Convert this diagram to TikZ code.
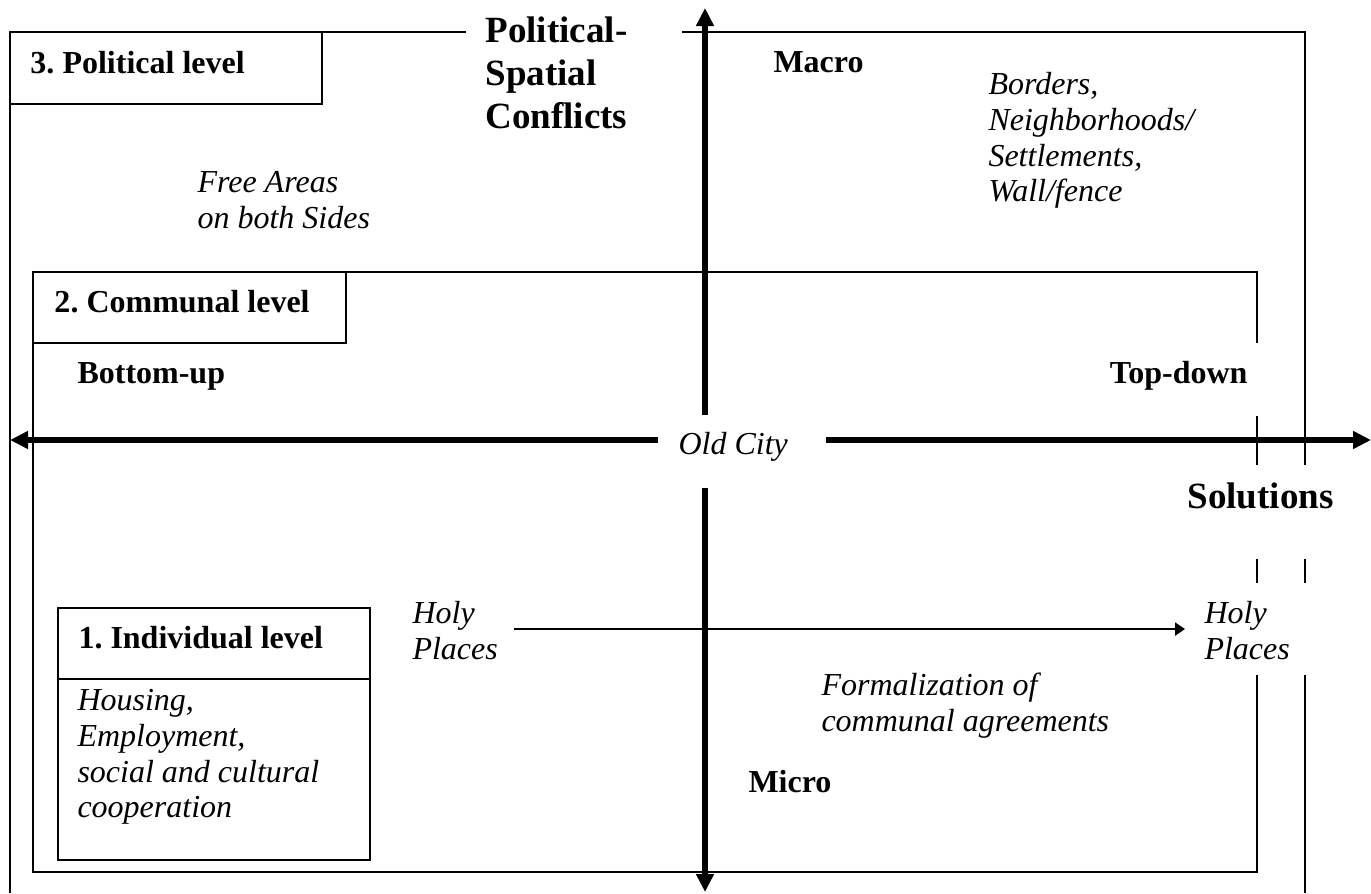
\documentclass[tikz,border=0pt]{standalone}
\usepackage{fontspec}
\setmainfont{Liberation Serif}
\usepackage{tikz}
\usetikzlibrary{arrows.meta}

\begin{document}
\frenchspacing
\begin{tikzpicture}[x=0.4pt, y=-0.4pt,
		every node/.style={inner sep=0pt},
		lvl/.style={font=\bfseries\fontsize{12.8}{14.3}\selectfont, anchor=base west},
		note/.style={font=\itshape\fontsize{12.8}{14.3}\selectfont, align=left, anchor=north west},
		title/.style={font=\bfseries\fontsize{14.8}{17.2}\selectfont, align=left, anchor=north west},
		frame/.style={line width=0.8pt},
		axis/.style={line width=2.2pt, -{Triangle[length=7.2pt, width=6.8pt]}},
		flow/.style={line width=0.8pt, -{Triangle[length=4pt, width=5.2pt]}}]
		\useasboundingbox (0,0) rectangle (1371,893);

		% outer frame, political level
		\draw[frame](466,32)--(10,32)--(10,893);
		\draw[frame](682,32)--(1305,32)--(1305,465);
		\draw[frame](1305,559)--(1305,583);
		\draw[frame](1305,675)--(1305,893);
		\draw[frame](10,104)--(322,104)--(322,32);

		% communal frame
		\draw[frame](1257,343)--(1257,272)--(33,272)--(33,872)--(1257,872)--(1257,675);
		\draw[frame](1257,416)--(1257,465);
		\draw[frame](1257,559)--(1257,583);
		\draw[frame](33,343)--(346,343)--(346,272);

		% individual box
		\draw[frame](58,608) rectangle (370,860);
		\draw[frame](58,679)--(370,679);

		% labels
		\node[lvl] (polLevel) at (30,73) {3. Political level};
		\node[lvl] (comLevel) at (54,312) {2. Communal level};
		\node[lvl] (indLevel) at (78,648) {1. Individual level};
		\node[title] (conflicts) at (485,16) {Political-\\Spatial\\Conflicts};
		\node[title, anchor=base west] (solutions) at (1187,508) {Solutions};
		\node[lvl] (macro) at (773,72) {Macro};
		\node[lvl] (micro) at (748,792) {Micro};
		\node[lvl] (bottomUp) at (77,383) {Bottom-up};
		\node[lvl, anchor=base east] (topDown) at (1248,383) {Top-down};

		\node[note] (freeAreas) at (197,167) {\strut Free Areas\\on both Sides};
		\node[note] (borders) at (988,69) {\strut Borders,\\Neighborhoods/\\Settlements,\\Wall/fence};
		\node[note] (housing) at (77,685) {\strut Housing,\\Employment,\\social and cultural\\cooperation};
		\node[note] (formal) at (821,670) {\strut Formalization of\\communal agreements};
		\node[note] (holyL) at (412,598) {\strut Holy\\Places};
		\node[note] (holyR) at (1204,598) {\strut Holy\\Places};
		\node[note, anchor=base west] (oldCity) at (678,454) {Old City};

		% axes
		\coordinate (axW) at (10,440);
		\coordinate (axE) at (1371,440);
		\coordinate (axN) at (705,8);
		\coordinate (axS) at (705,892);
		\coordinate (gapW) at (658,440);
		\coordinate (gapE) at (826,440);
		\coordinate (gapN) at (705,415);
		\coordinate (gapS) at (705,488);
		\draw[axis](gapW)--(axW);
		\draw[axis](gapE)--(axE);
		\draw[axis](gapN)--(axN);
		\draw[axis](gapS)--(axS);

		\draw[flow, shorten <=6.4pt, shorten >=7.6pt](holyL.east)--(holyR.west);
	\end{tikzpicture}
\end{document}
